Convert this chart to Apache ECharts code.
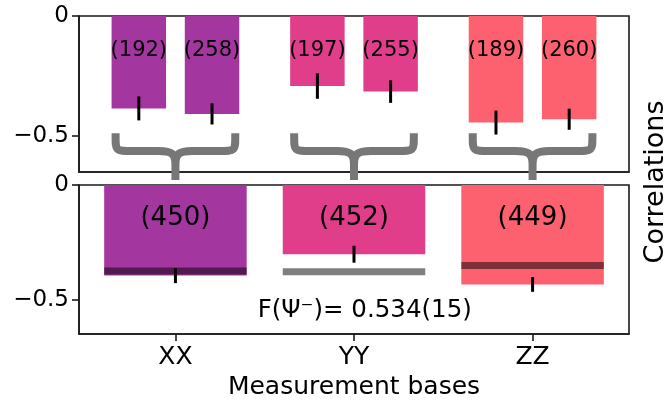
<!DOCTYPE html>
<html><head><meta charset="utf-8">
<script src="https://cdn.jsdelivr.net/npm/echarts@6/dist/echarts.min.js"></script>
<style>html,body{margin:0;padding:0;background:#fff}#c{width:669px;height:401px}</style>
</head><body><div id="c"></div>
<script>
// ---- data ----
const categories = ['XX', 'YY', 'ZZ'];
const pairCounts = [[192, 258], [197, 255], [189, 260]];
const pairValues = [[-0.385, -0.408], [-0.292, -0.315], [-0.444, -0.430]];
const pairErrors = [[0.050, 0.044], [0.053, 0.047], [0.050, 0.044]];
const combinedCounts = [450, 452, 449];
const combinedValues = [-0.395, -0.302, -0.434];
const combinedErrors = [0.033, 0.037, 0.032];
const expectedValues = [-0.375, -0.378, -0.351];
const yTickValues = [0, -0.5];
const xTickValues = [0, 1, 2];
const fidelityLabel = 'F(Ψ⁻)= 0.534(15)';

// ---- style / layout ----
const colors = ['#a3369f', '#e03d8b', '#fd6170'];
const FONT = 'DejaVu Sans';
const FRAME = '#1a1a1a';
const PAIR_OFFSET = 0.205, PAIR_WIDTH = 0.305, BAR_WIDTH = 0.798;
const COUNT_Y = -0.145;
const BRACE_TOP = -0.489, BRACE_MID = -0.5625, BRACE_TIP = -0.683;
const FIDELITY_POS = [1.06, -0.548];

const topData = [];
categories.forEach((c, i) => {
  for (let k = 0; k < 2; k++) {
    topData.push([i + (k ? 1 : -1) * PAIR_OFFSET, pairValues[i][k], pairErrors[i][k], pairCounts[i][k], i]);
  }
});
const bottomData = categories.map((c, i) => [i, combinedValues[i], combinedErrors[i], combinedCounts[i], i, expectedValues[i]]);

function barItem(width, fontSize, withExpected) {
  return function (params, api) {
    const x = api.value(0), v = api.value(1), e = api.value(2), n = api.value(3), ci = api.value(4);
    const p0 = api.coord([x - width / 2, 0]);
    const p1 = api.coord([x + width / 2, v]);
    const children = [{
      type: 'rect',
      shape: { x: p0[0], y: p0[1], width: p1[0] - p0[0], height: p1[1] - p0[1] },
      style: { fill: colors[ci] }
    }];
    if (withExpected) {
      const pe = api.coord([x, api.value(5)]);
      children.push({
        type: 'rect',
        shape: { x: p0[0], y: pe[1] - 3.5, width: p1[0] - p0[0], height: 7 },
        style: { fill: 'rgba(0,0,0,0.5)' }
      });
    }
    const e0 = api.coord([x, v + e]), e1 = api.coord([x, v - e]);
    children.push({ type: 'line', shape: { x1: e0[0], y1: e0[1], x2: e1[0], y2: e1[1] },
      style: { stroke: '#000', lineWidth: 3 } });
    const pl = api.coord([x, COUNT_Y]);
    children.push({ type: 'text', x: pl[0], y: pl[1],
      style: { text: '(' + n + ')', fontSize: fontSize, fontFamily: FONT, fill: '#000', align: 'center', verticalAlign: 'middle' } });
    return { type: 'group', children: children };
  };
}

function braceItem(params, api) {
  const i = api.value(0);
  const l = api.coord([i - PAIR_OFFSET - PAIR_WIDTH / 2, BRACE_TOP]);
  const r = api.coord([i + PAIR_OFFSET + PAIR_WIDTH / 2, BRACE_TOP]);
  const m = api.coord([i, BRACE_MID]);
  const t = api.coord([i, BRACE_TIP]);
  const h = 4;
  const L = l[0] + h, R = r[0] - h, C = m[0], yT = l[1], yM = m[1], yP = t[1];
  const d =
    `M${L},${yT} L${L},${yT + 3} C${L},${yM} ${L},${yM} ${L + 16},${yM} L${C - 17},${yM} ` +
    `C${C - 3},${yM} ${C},${yM + 3} ${C},${yM + 14} L${C},${yP} ` +
    `M${R},${yT} L${R},${yT + 3} C${R},${yM} ${R},${yM} ${R - 16},${yM} L${C + 17},${yM} ` +
    `C${C + 3},${yM} ${C},${yM + 3} ${C},${yM + 14} L${C},${yP}`;
  return { type: 'path', shape: { pathData: d },
    style: { fill: 'none', stroke: '#777777', lineWidth: 8, lineCap: 'butt', lineJoin: 'round' } };
}

const axisLine = { show: true, onZero: false, lineStyle: { color: FRAME, width: 1.6 } };
const yLabel = { customValues: yTickValues, fontSize: 23, fontFamily: FONT, color: '#000', margin: 10,
  formatter: v => (v === 0 ? '0' : String(v).replace('-', '\u2212')) };
const yTick = { show: true, length: 7, customValues: yTickValues, lineStyle: { color: FRAME, width: 1.6 } };

const option = {
  animation: false,
  backgroundColor: '#fff',
  grid: [
    { left: 79, top: 16, width: 550, height: 156, show: true, borderColor: FRAME, borderWidth: 1.6, backgroundColor: 'transparent' },
    { left: 79, top: 185, width: 550, height: 155, show: true, borderColor: FRAME, borderWidth: 1.6, backgroundColor: 'transparent' }
  ],
  xAxis: [
    { gridIndex: 0, type: 'value', min: -0.54, max: 2.54, axisLine: axisLine, axisTick: { show: false },
      axisLabel: { show: false }, splitLine: { show: false } },
    { gridIndex: 1, type: 'value', min: -0.54, max: 2.54, axisLine: axisLine,
      axisTick: { show: true, length: 7, customValues: xTickValues, lineStyle: { color: FRAME, width: 1.6 } },
      axisLabel: { customValues: xTickValues, formatter: v => categories[Math.round(v)], fontSize: 25, fontFamily: FONT, color: '#000', margin: 11 },
      splitLine: { show: false },
      name: 'Measurement bases', nameLocation: 'middle', nameGap: 41,
      nameTextStyle: { fontSize: 25, fontFamily: FONT, color: '#000' } }
  ],
  yAxis: [
    { gridIndex: 0, type: 'value', min: -0.65, max: 0, axisLine: axisLine, axisTick: yTick, axisLabel: yLabel, splitLine: { show: false } },
    { gridIndex: 1, type: 'value', min: -0.65, max: 0, axisLine: axisLine, axisTick: yTick, axisLabel: yLabel, splitLine: { show: false } }
  ],
  graphic: [
    { type: 'text', x: 656, y: 182, rotation: Math.PI / 2,
      style: { text: 'Correlations', fontSize: 27, fontFamily: FONT, fill: '#000', align: 'center', verticalAlign: 'middle' } }
  ],
  series: [
    { type: 'custom', xAxisIndex: 0, yAxisIndex: 0, data: topData, renderItem: barItem(PAIR_WIDTH, 21, false), z: 2 },
    { type: 'custom', xAxisIndex: 0, yAxisIndex: 0, data: categories.map((c, i) => [i]), renderItem: braceItem, z: 3 },
    { type: 'custom', xAxisIndex: 1, yAxisIndex: 1, data: bottomData, renderItem: barItem(BAR_WIDTH, 26, true), z: 2 },
    { type: 'custom', xAxisIndex: 1, yAxisIndex: 1, data: [FIDELITY_POS],
      renderItem: (params, api) => {
        const p = api.coord([api.value(0), api.value(1)]);
        return { type: 'text', x: p[0], y: p[1],
          style: { text: fidelityLabel, fontSize: 24.5, fontFamily: FONT, fill: '#000', align: 'center', verticalAlign: 'middle' } };
      }, z: 3 }
  ]
};
const chart = echarts.init(document.getElementById('c'), null, { renderer: 'canvas' });
chart.setOption(option);
</script>
</body></html>
